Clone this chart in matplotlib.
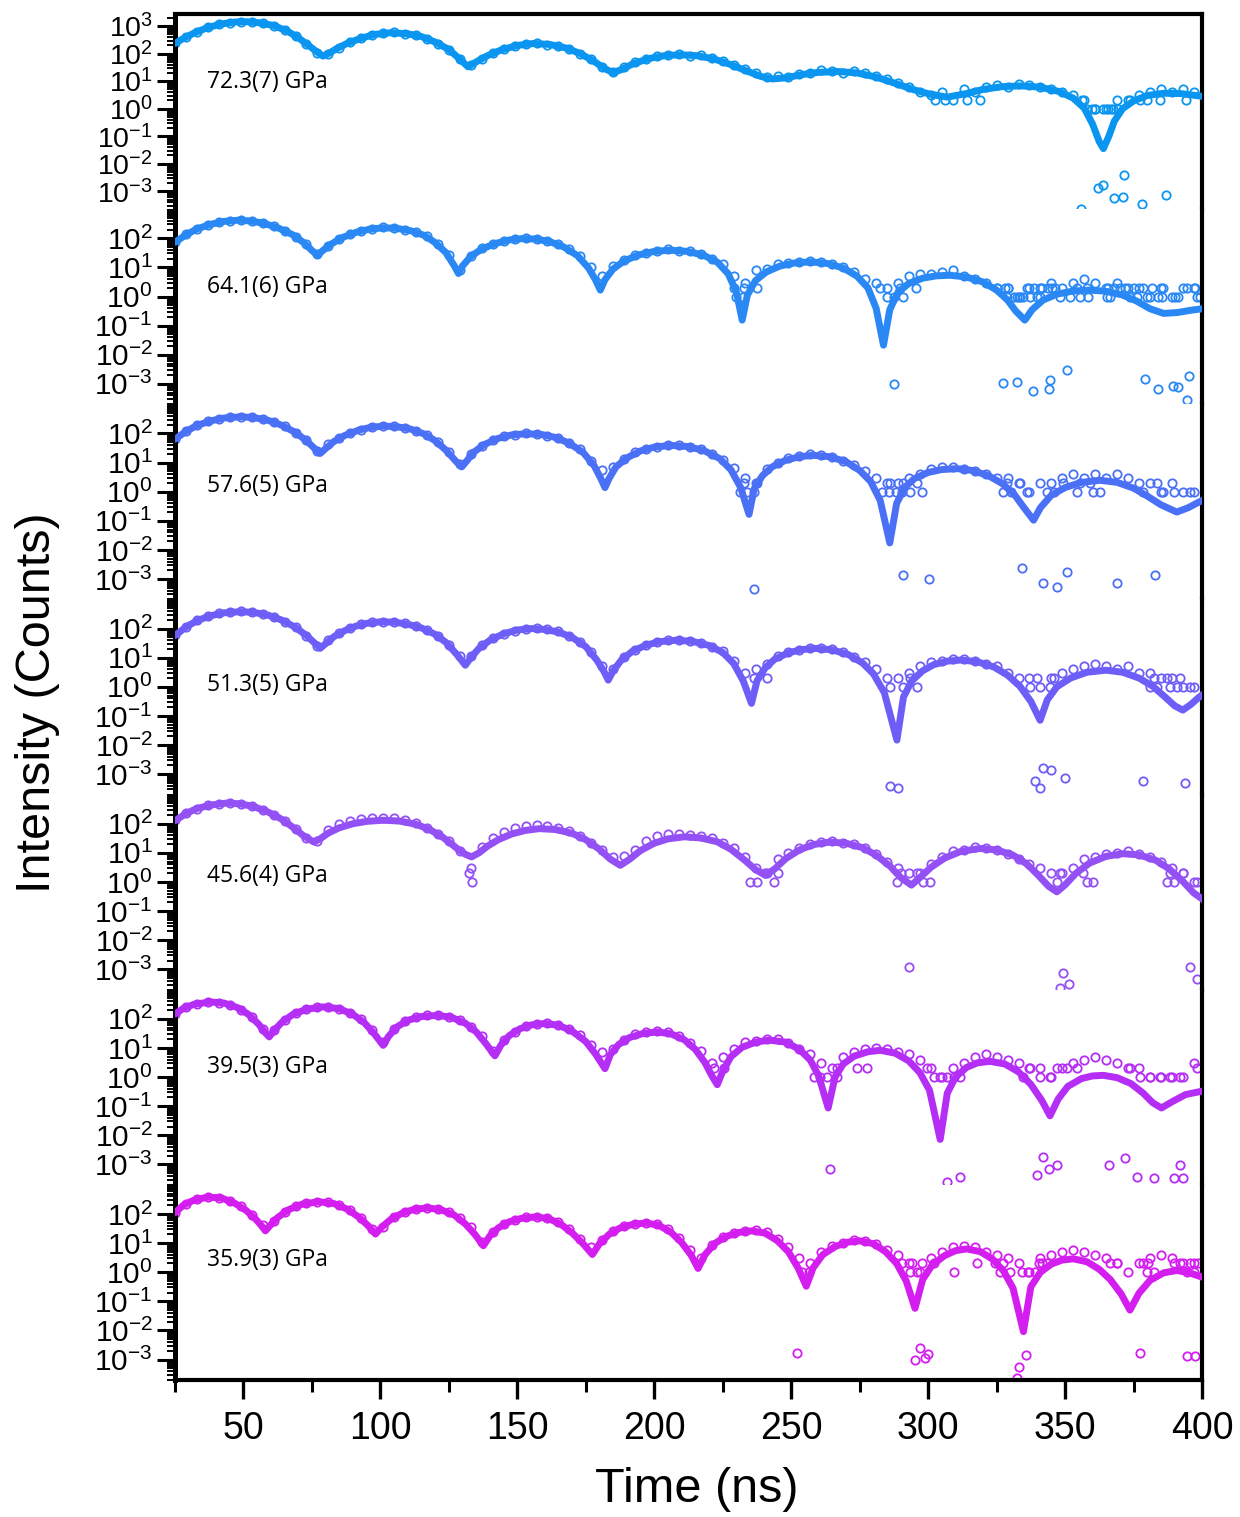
import numpy as np
import matplotlib
matplotlib.use("Agg")
import matplotlib.pyplot as plt
from matplotlib.ticker import FixedLocator, FixedFormatter, LogLocator, NullFormatter, MultipleLocator

plt.rcParams["font.family"] = ["Liberation Sans", "DejaVu Sans"]
plt.rcParams["mathtext.fontset"] = "custom"
plt.rcParams["mathtext.rm"] = "Liberation Sans"
plt.rcParams["mathtext.it"] = "Liberation Sans:italic"
plt.rcParams["mathtext.bf"] = "Liberation Sans:bold"

# ---- data (log10 counts) ----
pressures = ["72.3(7) GPa", "64.1(6) GPa", "57.6(5) GPa", "51.3(5) GPa",
             "45.6(4) GPa", "39.5(3) GPa", "35.9(3) GPa"]
colors = ["#0A96F0", "#2A88F5", "#4A70F5", "#6E5EF8", "#9350F5", "#B52EF5", "#D41EF0"]

# time bins of the measured spectra (ns)
t_data = [25, 29, 33, 37, 41, 45, 49, 53, 57, 61,
          65, 69, 73, 77, 81, 85, 89, 93, 97, 101,
          105, 109, 113, 117, 121, 125, 129, 133, 137, 141,
          145, 149, 153, 157, 161, 165, 169, 173, 177, 181,
          185, 189, 193, 197, 201, 205, 209, 213, 217, 221,
          225, 229, 233, 237, 241, 245, 249, 253, 257, 261,
          265, 269, 273, 277, 281, 285, 289, 293, 297, 301,
          305, 309, 313, 317, 321, 325, 329, 333, 337, 341,
          345, 349, 353, 357, 361, 365, 369, 373, 377, 381,
          385, 389, 393, 397]

data_72 = [2.38, 2.60, 2.80, 2.96, 3.06, 3.13, 3.16, 3.15, 3.10, 3.01,
           2.86, 2.64, 2.35, 2.02, 1.98, 2.22, 2.42, 2.56, 2.67, 2.74,
           2.77, 2.73, 2.66, 2.54, 2.36, 2.13, 1.80, 1.58, 1.82, 2.02,
           2.16, 2.28, 2.35, 2.38, 2.33, 2.26, 2.17, 2.00, 1.80, 1.52,
           1.35, 1.50, 1.68, 1.80, 1.90, 1.95, 1.97, 1.93, 1.95, 1.84,
           1.72, 1.60, 1.43, 1.28, 1.15, 1.18, 1.15, 1.26, 1.30, 1.40,
           1.36, 1.30, 1.38, 1.28, 1.20, 1.08, 0.95, 0.78, 0.62, 0.48,
           0.60, 0.30, 0.70, 0.60, 0.78, 0.85, 0.78, 0.90, 0.85, 0.78,
           0.70, 0.60, 0.48, 0.30, 0.0, 0.0, 0.30, 0.30, 0.48, 0.60,
           0.70, 0.60, 0.70, 0.60]
data_64 = [1.88, 2.13, 2.32, 2.46, 2.56, 2.61, 2.63, 2.58, 2.52, 2.41,
           2.26, 2.06, 1.80, 1.45, 1.74, 1.98, 2.14, 2.26, 2.33, 2.37,
           2.35, 2.30, 2.20, 2.07, 1.82, 1.42, 0.90, 1.40, 1.66, 1.80,
           1.92, 1.98, 2.02, 1.97, 1.90, 1.80, 1.62, 1.38, 1.00, 0.70,
           1.05, 1.25, 1.42, 1.50, 1.56, 1.62, 1.58, 1.55, 1.45, 1.30,
           1.10, 0.70, 0.48, 0.90, 0.95, 1.10, 1.15, 1.20, 1.22, 1.18,
           1.10, 1.00, 0.85, 0.60, 0.48, 0.30, 0.48, 0.70, 0.78, 0.78,
           0.85, 0.90, 0.70, 0.60, 0.48, 0.30, 0.30, 0.0, 0.30, 0.30,
           0.48, 0.30, 0.48, 0.60, 0.48, 0.30, 0.48, 0.30, 0.30, 0.0,
           0.30, 0.0, 0.30, 0.30]
data_58 = [1.82, 2.08, 2.28, 2.41, 2.50, 2.55, 2.58, 2.55, 2.48, 2.38,
           2.24, 2.02, 1.76, 1.38, 1.62, 1.84, 2.02, 2.13, 2.22, 2.25,
           2.24, 2.20, 2.08, 1.95, 1.70, 1.35, 0.95, 1.28, 1.58, 1.76,
           1.90, 1.96, 2.00, 1.98, 1.92, 1.85, 1.66, 1.45, 1.05, 0.75,
           0.85, 1.12, 1.35, 1.48, 1.55, 1.60, 1.60, 1.52, 1.45, 1.28,
           1.10, 0.80, 0.48, 0.30, 0.78, 1.00, 1.15, 1.22, 1.28, 1.25,
           1.20, 1.05, 0.90, 0.70, 0.48, 0.30, 0.30, 0.48, 0.60, 0.78,
           0.85, 0.85, 0.78, 0.70, 0.60, 0.48, 0.48, 0.30, 0.0, 0.30,
           0.30, 0.48, 0.60, 0.48, 0.60, 0.48, 0.60, 0.48, 0.30, 0.30,
           0.0, 0.30, 0.0, 0.0]
data_51 = [1.78, 2.06, 2.28, 2.42, 2.52, 2.56, 2.59, 2.56, 2.50, 2.38,
           2.24, 2.04, 1.76, 1.40, 1.60, 1.84, 2.02, 2.14, 2.22, 2.24,
           2.22, 2.18, 2.08, 1.95, 1.75, 1.45, 1.05, 1.05, 1.42, 1.66,
           1.83, 1.93, 2.00, 2.02, 1.97, 1.90, 1.74, 1.55, 1.20, 0.70,
           0.60, 1.02, 1.28, 1.44, 1.53, 1.60, 1.62, 1.58, 1.52, 1.38,
           1.22, 0.90, 0.48, 0.60, 0.78, 1.05, 1.18, 1.28, 1.32, 1.34,
           1.30, 1.18, 1.02, 0.85, 0.60, 0.30, 0.30, 0.48, 0.70, 0.85,
           0.90, 0.95, 0.95, 0.90, 0.78, 0.70, 0.48, 0.30, 0.30, 0.0,
           0.30, 0.48, 0.60, 0.70, 0.78, 0.70, 0.60, 0.70, 0.48, 0.48,
           0.30, 0.30, 0.0, 0.0]
data_46 = [2.12, 2.36, 2.52, 2.63, 2.69, 2.71, 2.68, 2.60, 2.48, 2.30,
           2.08, 1.82, 1.50, 1.42, 1.80, 1.98, 2.08, 2.16, 2.20, 2.21,
           2.19, 2.12, 2.02, 1.86, 1.66, 1.40, 1.05, 0.48, 1.20, 1.50,
           1.72, 1.85, 1.92, 1.94, 1.92, 1.86, 1.75, 1.58, 1.35, 1.10,
           0.85, 0.90, 1.10, 1.40, 1.58, 1.65, 1.66, 1.62, 1.58, 1.50,
           1.33, 1.15, 0.85, 0.48, 0.30, 0.78, 0.98, 1.15, 1.30, 1.38,
           1.40, 1.35, 1.30, 1.15, 0.95, 0.70, 0.48, 0.30, 0.30, 0.60,
           0.85, 1.05, 1.10, 1.20, 1.15, 1.10, 0.95, 0.78, 0.60, 0.48,
           0.30, 0.30, 0.48, 0.78, 0.85, 0.95, 1.00, 1.05, 0.95, 0.85,
           0.70, 0.48, 0.30, 0.0]
data_40 = [2.16, 2.40, 2.52, 2.57, 2.56, 2.48, 2.32, 2.06, 1.66, 1.60,
           1.95, 2.20, 2.35, 2.41, 2.40, 2.34, 2.20, 1.98, 1.62, 1.20,
           1.65, 1.92, 2.06, 2.12, 2.13, 2.08, 1.95, 1.72, 1.40, 0.90,
           1.26, 1.55, 1.75, 1.82, 1.85, 1.80, 1.65, 1.45, 1.10, 0.85,
           0.95, 1.28, 1.48, 1.56, 1.58, 1.55, 1.42, 1.18, 0.90, 0.48,
           0.70, 0.98, 1.20, 1.25, 1.32, 1.30, 1.18, 0.95, 0.78, 0.48,
           0.30, 0.70, 0.85, 0.95, 1.00, 0.95, 0.85, 0.78, 0.60, 0.30,
           0.0, 0.30, 0.48, 0.70, 0.78, 0.70, 0.60, 0.48, 0.30, 0.30,
           0.0, 0.30, 0.48, 0.60, 0.70, 0.60, 0.48, 0.30, 0.30, 0.0,
           0.0, 0.0, 0.0, 0.48]
data_36 = [2.05, 2.35, 2.50, 2.57, 2.56, 2.45, 2.26, 1.98, 1.62, 1.75,
           2.06, 2.27, 2.38, 2.42, 2.40, 2.30, 2.12, 1.85, 1.48, 1.55,
           1.90, 2.06, 2.17, 2.21, 2.18, 2.06, 1.85, 1.55, 1.05, 1.38,
           1.64, 1.80, 1.88, 1.90, 1.85, 1.72, 1.48, 1.15, 0.85, 1.10,
           1.42, 1.58, 1.66, 1.70, 1.65, 1.48, 1.18, 0.78, 0.48, 0.95,
           1.20, 1.35, 1.42, 1.45, 1.38, 1.15, 0.85, 0.48, 0.30, 0.70,
           0.90, 1.02, 1.10, 1.08, 0.98, 0.78, 0.60, 0.30, 0.0, 0.48,
           0.70, 0.85, 0.90, 0.85, 0.70, 0.60, 0.48, 0.30, 0.0, 0.48,
           0.60, 0.70, 0.78, 0.70, 0.60, 0.48, 0.30, 0.0, 0.30, 0.48,
           0.60, 0.48, 0.30, 0.30]

# extra low-count points (t, log10 counts)
extra_72 = [(358, 0), (360, 0), (361, 0), (363.7, 0), (365.5, 0), (366.6, 0), (367.6, 0), (369.4, 0),
            (302.6, 0.3), (306.2, 0.3), (314.1, 0.3), (319, 0.3), (356.1, 0.3), (373.7, 0.3),
            (377.4, 0.3), (379.8, 0.3), (384.7, 0.3), (394, 0.3),
            (356, -3.65), (362, -2.89), (364, -2.78), (368, -3.24), (371, -3.2), (371.5, -2.42),
            (378, -3.48), (387, -3.12)]
extra_64 = [(230, 0), (232.5, 0), (285, 0), (287.4, 0), (291, 0), (328.7, 0), (331.2, 0), (332.4, 0),
            (333.6, 0), (334.8, 0), (337.2, 0), (339.7, 0), (340.9, 0), (348.2, 0), (351.8, 0),
            (355.5, 0), (358.5, 0), (365.2, 0), (366.4, 0), (373.7, 0), (376.2, 0), (379.8, 0),
            (384.1, 0), (385.3, 0), (390.2, 0), (391.4, 0), (398.1, 0), (399.3, 0),
            (229, 0.3), (232.6, 0.3), (237.5, 0.3), (282.5, 0.3), (289.8, 0.3), (295.4, 0.3),
            (325, 0.3), (328.1, 0.3), (329.3, 0.3), (336, 0.3), (338.5, 0.3), (341.5, 0.3),
            (343.9, 0.3), (345.2, 0.3), (346.4, 0.3), (354.3, 0.3), (357.9, 0.3), (365.8, 0.3),
            (367.7, 0.3), (370.1, 0.3), (372, 0.3), (375, 0.3), (378.6, 0.3), (381.7, 0.3),
            (385.9, 0.3), (394.4, 0.3), (397.5, 0.3),
            (287.4, -2.99), (327.5, -2.97), (332.4, -2.93), (338.4, -3.24), (344.5, -2.85),
            (344, -3.18), (350.6, -2.51), (379.1, -2.82), (384, -3.18), (389.5, -3.08),
            (391.2, -3.10), (395.1, -2.72), (394.4, -3.56), (401.2, -3.13)]
extra_58 = [(231.4, 0), (233.8, 0), (236.3, 0), (283.2, 0), (285.6, 0), (288.1, 0), (290.5, 0),
            (293.4, 0), (297.8, 0), (327.5, 0), (330.4, 0), (336, 0), (343.3, 0), (345.8, 0),
            (354.3, 0), (360.3, 0), (362.8, 0), (378.6, 0), (385.9, 0), (389.6, 0), (395.6, 0),
            (232.6, 0.3), (237.5, 0.3), (286.1, 0.3), (291, 0.3), (295.9, 0.3), (328.7, 0.3),
            (333.6, 0.3), (349.4, 0.3), (355.5, 0.3), (359.1, 0.3), (383.5, 0.3),
            (236.3, -3.33), (291, -2.87), (300.2, -2.99), (334.3, -2.62), (342.1, -3.14),
            (347, -3.27), (350.6, -2.76), (368.9, -3.14), (383, -2.87)]
extra_51 = [(286.1, 0), (291, 0), (295.9, 0), (337.2, 0), (344.5, 0), (381, 0), (383.5, 0),
            (388.3, 0), (390.8, 0), (395.6, 0),
            (236.3, 0.3), (241.1, 0.3), (293.4, 0.3), (339.7, 0.3), (345.8, 0.3), (382.3, 0.3),
            (387.1, 0.3), (392, 0.3),
            (286.1, -3.40), (289, -3.49), (339.2, -3.24), (340.9, -3.47), (342.1, -2.78),
            (345, -2.84), (349.9, -3.13), (378.6, -3.23), (393.7, -3.30), (401.7, -2.58)]
extra_46 = [(133.5, 0), (235, 0), (237.5, 0), (243.6, 0), (288.6, 0), (298.3, 0), (300.8, 0),
            (347, 0), (357.9, 0), (360.3, 0), (387.1, 0), (389.6, 0), (398.1, 0),
            (132.5, 0.3), (240.3, 0.3), (245.2, 0.3), (290, 0.3), (296, 0.3), (348.2, 0.3),
            (356.7, 0.3), (388.3, 0.3), (393.2, 0.3),
            (293, -2.92), (349.4, -3.13), (351.4, -3.49), (348.2, -3.63), (395.6, -2.92),
            (398.1, -3.32)]
extra_40 = [(258.2, 0), (260.6, 0), (263, 0), (266.7, 0), (302, 0), (304.4, 0), (306.8, 0),
            (309.3, 0), (311.7, 0), (334.8, 0), (340.9, 0), (344.5, 0), (377.4, 0), (381, 0),
            (384.7, 0), (388.3, 0), (392, 0),
            (221.7, 0.3), (225.3, 0.3), (266.7, 0.3), (274, 0.3), (277.6, 0.3), (299.5, 0.3),
            (337.2, 0.3), (346.9, 0.3), (350.6, 0.3), (354.3, 0.3), (373.7, 0.3), (398.1, 0.3),
            (264.2, -3.17), (306.8, -3.60), (311.7, -3.43), (339.7, -3.37), (342.1, -2.74),
            (344, -3.17), (346.9, -3.03), (365.9, -3.03), (371.8, -2.77), (376.2, -3.43),
            (382.3, -3.47), (389.6, -3.47), (392, -3.03), (393.2, -3.47)]
extra_36 = [(254, 0), (256.5, 0), (293.5, 0), (296.1, 0), (309.3, 0), (326.3, 0), (330, 0),
            (334.2, 0), (336.6, 0), (339, 0), (379.8, 0), (382.3, 0), (394.4, 0), (396.9, 0),
            (290.4, 0.3), (294.1, 0.3), (297.7, 0.3), (302, 0.3), (317.8, 0.3), (324.5, 0.3),
            (327.5, 0.3), (340.3, 0.3), (341.5, 0.3), (343.3, 0.3), (366.4, 0.3), (368.9, 0.3),
            (378.6, 0.3), (380.4, 0.3), (389.6, 0.3), (392, 0.3), (395.6, 0.3), (398.7, 0.3),
            (252.2, -2.76), (295.3, -3.00), (297.1, -2.60), (298.9, -2.94), (300.1, -2.80),
            (333, -3.25), (335.8, -2.83), (332.4, -3.62), (377.4, -2.77), (394.7, -2.86),
            (397.5, -2.86)]

# fitted curves (t, log10 counts)
fit_72 = [(25, 2.37), (28, 2.55), (32, 2.75), (37, 2.95), (42, 3.08), (47, 3.15), (51, 3.16),
          (56, 3.12), (61, 3.02), (66, 2.82), (70, 2.58), (74, 2.28), (77, 2.05), (79, 1.91),
          (81, 2.0), (84, 2.18), (88, 2.38), (93, 2.56), (98, 2.70), (104, 2.76), (110, 2.72),
          (115, 2.62), (120, 2.42), (125, 2.15), (129, 1.80), (132, 1.52), (135, 1.70),
          (139, 1.92), (144, 2.13), (150, 2.30), (156, 2.37), (162, 2.33), (168, 2.20),
          (173, 2.00), (178, 1.72), (182, 1.45), (185, 1.31), (188, 1.42), (192, 1.62),
          (198, 1.82), (204, 1.93), (210, 1.96), (216, 1.92), (222, 1.80), (228, 1.60),
          (234, 1.36), (239, 1.17), (243, 1.08), (248, 1.12), (254, 1.24), (260, 1.32),
          (267, 1.35), (274, 1.30), (281, 1.15), (288, 0.92), (295, 0.68), (301, 0.52),
          (307, 0.42), (314, 0.55), (320, 0.70), (327, 0.80), (334, 0.83), (341, 0.78),
          (348, 0.62), (353, 0.38), (357, 0.02), (360, -0.55), (362.5, -1.2), (364, -1.45),
          (366, -1.0), (368, -0.45), (371, 0.0), (375, 0.28), (380, 0.48), (386, 0.56),
          (392, 0.55), (400, 0.45)]
fit_64 = [(25, 1.86), (29, 2.12), (33, 2.32), (38, 2.48), (43, 2.58), (48, 2.62), (53, 2.59),
          (58, 2.50), (63, 2.34), (68, 2.12), (72, 1.85), (75, 1.58), (77, 1.42), (79, 1.58),
          (82, 1.80), (86, 2.02), (91, 2.20), (96, 2.31), (101, 2.36), (106, 2.34), (111, 2.26),
          (116, 2.10), (120, 1.85), (124, 1.50), (127, 1.05), (128.5, 0.79), (130, 1.05),
          (133, 1.38), (137, 1.63), (142, 1.82), (147, 1.94), (152, 1.99), (157, 1.97),
          (162, 1.88), (167, 1.70), (172, 1.40), (176, 0.98), (178.5, 0.58), (180.3, 0.22),
          (182, 0.58), (185, 0.95), (189, 1.22), (194, 1.42), (200, 1.55), (206, 1.59),
          (212, 1.55), (218, 1.42), (223, 1.18), (227, 0.78), (230, 0.15), (232.1, -0.81),
          (234, 0.05), (237, 0.55), (241, 0.85), (246, 1.05), (251, 1.15), (257, 1.19),
          (263, 1.14), (269, 0.98), (274, 0.70), (278, 0.30), (281, -0.40), (283.7, -1.67),
          (286, -0.45), (289, 0.15), (293, 0.45), (298, 0.63), (303, 0.71), (308, 0.73),
          (314, 0.67), (320, 0.50), (325, 0.22), (329, -0.12), (332, -0.50), (335.3, -0.81),
          (338, -0.45), (342, -0.12), (347, 0.08), (353, 0.19), (359, 0.22), (365, 0.18),
          (371, 0.05), (376, -0.15), (381, -0.42), (386, -0.58), (391, -0.55), (396, -0.47),
          (401, -0.41)]
fit_58 = [(25, 1.80), (29, 2.07), (33, 2.27), (38, 2.43), (43, 2.53), (49, 2.57), (54, 2.54),
          (59, 2.45), (64, 2.28), (69, 2.03), (73, 1.75), (76, 1.48), (78, 1.31), (80, 1.48),
          (83, 1.72), (87, 1.93), (92, 2.11), (96, 2.20), (101, 2.25), (106, 2.23), (111, 2.15),
          (116, 1.98), (120, 1.75), (124, 1.42), (127.5, 1.05), (129.7, 0.85), (131.5, 1.05),
          (134, 1.35), (138, 1.62), (143, 1.83), (148, 1.95), (153.5, 1.99), (159, 1.96),
          (164, 1.86), (169, 1.66), (174, 1.35), (178, 0.90), (180.5, 0.45), (182, 0.14),
          (183.5, 0.45), (186, 0.85), (190, 1.16), (195, 1.40), (200, 1.53), (206, 1.59),
          (212, 1.55), (218, 1.42), (224, 1.13), (228, 0.75), (231.5, 0.15), (234.6, -0.78),
          (236.5, 0.10), (239.5, 0.55), (243, 0.85), (248, 1.08), (253, 1.20), (258, 1.25),
          (264, 1.20), (270, 1.03), (275, 0.73), (279, 0.35), (282.5, -0.30), (286, -1.76),
          (288.5, -0.40), (291.5, 0.15), (295, 0.45), (300, 0.66), (305, 0.76), (310.5, 0.79),
          (316, 0.73), (322, 0.55), (327, 0.28), (331.5, -0.10), (335, -0.55), (338.5, -0.98),
          (341, -0.55), (345, -0.12), (350, 0.14), (356, 0.32), (362.8, 0.39), (369, 0.32),
          (375, 0.12), (380, -0.15), (385, -0.45), (390.8, -0.70), (395, -0.55), (399, -0.35),
          (401.7, -0.24)]
fit_51 = [(25, 1.76), (29, 2.05), (33, 2.27), (38, 2.44), (43, 2.54), (49, 2.58), (54, 2.55),
          (59, 2.46), (64, 2.29), (69, 2.04), (73, 1.76), (76, 1.50), (78, 1.32), (80, 1.48),
          (83, 1.72), (87, 1.93), (91, 2.08), (95, 2.18), (100, 2.23), (105, 2.22), (110, 2.15),
          (115, 2.02), (120, 1.80), (124, 1.52), (128, 1.10), (131, 0.74), (133, 1.00),
          (136, 1.32), (140, 1.60), (145, 1.82), (150, 1.95), (155, 2.00), (160, 1.97),
          (165, 1.88), (170, 1.70), (175, 1.38), (179, 0.92), (181.5, 0.55), (183.2, 0.23),
          (185, 0.55), (188, 0.92), (192, 1.22), (197, 1.43), (202, 1.55), (208, 1.60),
          (214, 1.56), (220, 1.42), (225, 1.18), (229, 0.80), (232.5, 0.20), (235.5, -0.57),
          (237.5, 0.20), (240.5, 0.65), (244, 0.95), (249, 1.17), (254, 1.28), (259, 1.32),
          (265, 1.27), (271, 1.10), (276, 0.82), (280, 0.45), (284, -0.20), (288.6, -1.83),
          (291, -0.35), (294, 0.20), (298, 0.55), (302, 0.76), (307, 0.88), (312, 0.92),
          (318, 0.86), (324, 0.68), (329, 0.40), (333.5, 0.02), (337.5, -0.50), (340.9, -1.15),
          (343.5, -0.45), (347, 0.00), (352, 0.30), (358, 0.50), (365, 0.57), (371, 0.50),
          (377, 0.30), (382, 0.02), (386.5, -0.35), (390, -0.65), (393, -0.80), (396, -0.60),
          (399, -0.35), (401.7, -0.17)]
fit_46 = [(25, 2.10), (29, 2.35), (33, 2.52), (38, 2.64), (44, 2.71), (49, 2.68), (54, 2.58),
          (59, 2.40), (64, 2.15), (68, 1.88), (72, 1.58), (75.7, 1.37), (78, 1.48), (81, 1.68),
          (85, 1.86), (90, 2.00), (95, 2.08), (101, 2.12), (107, 2.09), (113, 1.98), (118, 1.80),
          (123, 1.52), (128, 1.15), (131, 0.95), (133.3, 0.86), (136, 1.00), (139, 1.22),
          (143, 1.45), (148, 1.65), (153, 1.77), (158, 1.83), (164, 1.80), (170, 1.67),
          (175, 1.45), (180, 1.12), (184, 0.78), (187.6, 0.57), (191, 0.78), (195, 1.08),
          (200, 1.33), (205, 1.48), (211, 1.55), (217, 1.51), (223, 1.38), (228, 1.12),
          (233, 0.75), (237, 0.42), (240.6, 0.23), (244, 0.45), (248, 0.80), (253, 1.10),
          (258, 1.28), (264, 1.37), (270, 1.33), (276, 1.18), (281, 0.92), (286, 0.55),
          (290, 0.15), (293.9, -0.11), (297, 0.15), (301, 0.50), (306, 0.82), (312, 1.05),
          (319, 1.15), (325, 1.10), (331, 0.92), (336, 0.62), (340, 0.25), (344, -0.15),
          (347, -0.34), (350, -0.10), (354, 0.30), (359, 0.65), (365, 0.88), (371, 0.97),
          (377, 0.93), (383, 0.75), (388, 0.45), (393, 0.02), (397, -0.38), (401.7, -0.69)]
fit_40 = [(25, 2.16), (28, 2.36), (32, 2.50), (38, 2.58), (43, 2.54), (48, 2.38), (52, 2.14),
          (55.5, 1.82), (58, 1.52), (59.4, 1.38), (61, 1.58), (64, 1.88), (68, 2.15), (73, 2.33),
          (79, 2.41), (85, 2.35), (90, 2.15), (94, 1.88), (97.5, 1.52), (101, 1.09), (103, 1.40),
          (106, 1.72), (110, 1.95), (115, 2.08), (121, 2.12), (126, 2.05), (131, 1.85),
          (135, 1.55), (138.5, 1.15), (141.8, 0.73), (144, 1.10), (147, 1.42), (151, 1.66),
          (155, 1.79), (160, 1.84), (165, 1.78), (170, 1.58), (175, 1.22), (178.5, 0.80),
          (182, 0.29), (184, 0.78), (187, 1.12), (191, 1.36), (196, 1.50), (201, 1.55),
          (206, 1.49), (211, 1.28), (215, 0.95), (218.5, 0.50), (221, 0.05), (223, -0.26),
          (225, 0.20), (228, 0.70), (232, 1.02), (237, 1.20), (242, 1.27), (248, 1.20),
          (253, 0.95), (257, 0.58), (260, 0.05), (263.5, -1.06), (266, 0.00), (269, 0.45),
          (273, 0.72), (278, 0.87), (282.5, 0.92), (288, 0.82), (293, 0.55), (297, 0.15),
          (300.5, -0.45), (304.4, -2.14), (307, -0.55), (310, 0.00), (314, 0.33), (318, 0.49),
          (322.6, 0.54), (328, 0.45), (333, 0.18), (337.5, -0.25), (341.5, -0.80),
          (344.5, -1.33), (347.5, -0.75), (351, -0.32), (356, -0.05), (360, 0.04), (364, 0.06),
          (369, -0.02), (374, -0.22), (378.5, -0.55), (382, -0.88), (385.2, -1.06),
          (389, -0.85), (394, -0.60), (401.7, -0.45)]
fit_36 = [(25, 2.04), (28, 2.30), (32, 2.48), (37, 2.58), (42, 2.55), (47, 2.36), (51, 2.12),
          (54.5, 1.82), (57, 1.55), (58, 1.42), (59.5, 1.58), (62.5, 1.88), (66.5, 2.15),
          (71.5, 2.34), (77.5, 2.42), (83, 2.36), (88, 2.16), (92, 1.90), (95.5, 1.60),
          (98.2, 1.31), (100.5, 1.55), (104, 1.83), (108, 2.03), (112, 2.15), (117, 2.21),
          (122, 2.15), (127, 1.96), (131, 1.66), (134.5, 1.30), (137.6, 0.91), (140, 1.25),
          (143, 1.52), (147, 1.73), (151.5, 1.85), (156.6, 1.90), (161.5, 1.84), (166, 1.64),
          (170, 1.35), (174, 0.98), (177.4, 0.61), (180, 0.98), (183.5, 1.30), (187.5, 1.52),
          (192, 1.64), (196.7, 1.69), (201.5, 1.62), (206, 1.38), (210, 1.02), (213.5, 0.58),
          (216, 0.13), (218.5, 0.60), (222, 0.98), (226, 1.22), (231, 1.37), (235.7, 1.42),
          (240.5, 1.34), (245, 1.08), (249, 0.70), (252.5, 0.15), (255.5, -0.48), (258, 0.15),
          (261.5, 0.60), (266, 0.88), (270.5, 1.03), (275, 1.08), (280, 0.98), (284.5, 0.70),
          (288.5, 0.30), (292, -0.30), (295.2, -1.24), (298, -0.25), (301.5, 0.25),
          (306, 0.57), (310, 0.74), (314, 0.80), (319, 0.71), (323.5, 0.45), (327.5, 0.05),
          (331, -0.55), (334.8, -2.04), (337.5, -0.50), (341, 0.00), (345, 0.28), (349, 0.42),
          (353, 0.46), (358, 0.36), (362.5, 0.10), (366.5, -0.25), (370.5, -0.75),
          (373.7, -1.30), (377, -0.72), (381, -0.28), (386, -0.02), (390.8, 0.06),
          (395.5, -0.02), (400, -0.17)]

datasets = [data_72, data_64, data_58, data_51, data_46, data_40, data_36]
extras = [extra_72, extra_64, extra_58, extra_51, extra_46, extra_40, extra_36]
fits = [fit_72, fit_64, fit_58, fit_51, fit_46, fit_40, fit_36]
label_y = [0.651, 0.60, 0.58, 0.56, 0.585, 0.605, 0.615]

# ---- figure ----
fig = plt.figure(figsize=(12.4, 15.17), dpi=100)
left, right = 175 / 1240, 1202 / 1240
top, bottom = 1 - 14 / 1517, 1 - 1380 / 1517
h = (top - bottom) / 7

for i in range(7):
    ax = fig.add_axes([left, top - (i + 1) * h, right - left, h])
    c = colors[i]

    ex_t = [p[0] for p in extras[i]]
    ex_y = [p[1] for p in extras[i]]
    ax.plot(t_data, 10.0 ** np.array(datasets[i]), "o", mfc="none", mec=c, ms=6, mew=1.3, zorder=2)
    ax.plot(ex_t, 10.0 ** np.array(ex_y), "o", mfc="none", mec=c, ms=6, mew=1.3, zorder=2)
    ft = [p[0] for p in fits[i]]
    fy = [p[1] for p in fits[i]]
    ax.plot(ft, 10.0 ** np.array(fy), color=c, lw=5, solid_capstyle="round",
            solid_joinstyle="round", zorder=3)

    ax.set_yscale("log")
    ax.set_xlim(25, 400)
    if i == 0:
        ax.set_ylim(10 ** -3.65, 10 ** 3.44)
        decs = list(range(-3, 4))
        ysize = 20.5
    else:
        ax.set_ylim(10 ** -3.7, 10 ** 3.0)
        decs = list(range(-3, 3))
        ysize = 21.5
    ax.yaxis.set_major_locator(FixedLocator([10.0 ** k for k in decs]))
    ax.yaxis.set_major_formatter(FixedFormatter([r"$10^{%d}$" % k for k in decs]))
    ax.yaxis.set_minor_locator(LogLocator(base=10, subs=np.arange(2, 10), numticks=30))
    ax.yaxis.set_minor_formatter(NullFormatter())
    ax.tick_params(axis="y", which="major", direction="out", length=13, width=2.2,
                   labelsize=ysize, pad=3, right=False)
    ax.tick_params(axis="y", which="minor", direction="out", length=6, width=1.4, right=False)

    ax.spines["left"].set_linewidth(3.6)
    ax.spines["right"].set_linewidth(3.0)
    ax.spines["top"].set_visible(i == 0)
    ax.spines["top"].set_linewidth(3.0)
    ax.spines["bottom"].set_visible(i == 6)
    ax.spines["bottom"].set_linewidth(3.0)

    if i == 6:
        ax.xaxis.set_major_locator(MultipleLocator(50))
        ax.xaxis.set_minor_locator(FixedLocator([25, 75, 125, 175, 225, 275, 325, 375]))
        ax.tick_params(axis="x", which="major", direction="out", length=14, width=2.4,
                       labelsize=27, pad=8, top=False)
        ax.tick_params(axis="x", which="minor", direction="out", length=8.5, width=2.2, top=False)
    else:
        ax.tick_params(axis="x", which="both", bottom=False, top=False, labelbottom=False)

    ax.text(0.031, label_y[i], pressures[i], transform=ax.transAxes, fontsize=16.5,
            family=["Open Sans", "DejaVu Sans"], va="center", ha="left")

fig.text(0.030, 0.537, "Intensity (Counts)", rotation=90, fontsize=35, ha="center", va="center")
fig.text(0.562, 0.018, "Time (ns)", fontsize=35, ha="center", va="center")

fig.savefig("out.png", dpi=100)
